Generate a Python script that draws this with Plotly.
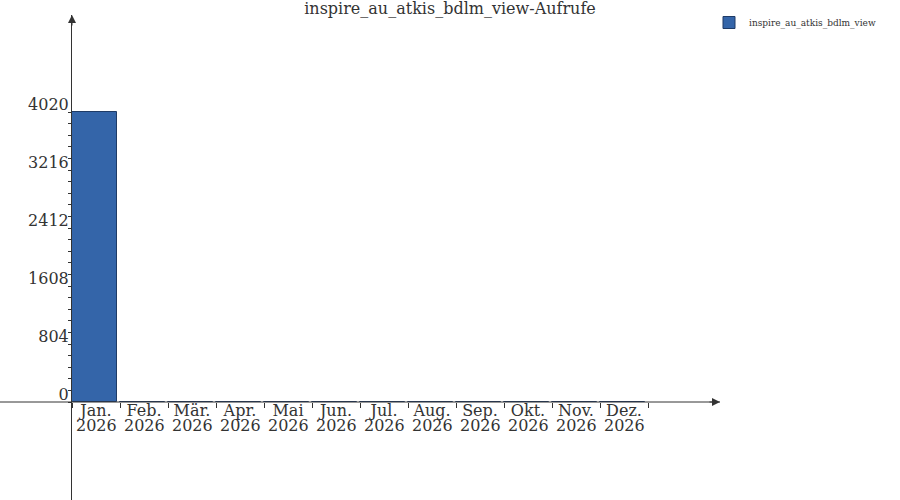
import plotly.graph_objects as go

# Data
months = ['Jan.', 'Feb.', 'Mär.', 'Apr.', 'Mai', 'Jun.', 'Jul.', 'Aug.',
          'Sep.', 'Okt.', 'Nov.', 'Dez.']
year = '2026'
calls = [4020, 0, 0, 0, 0, 0, 0, 0, 0, 0, 0, 0]
y_ticks = [0, 804, 1608, 2412, 3216, 4020]
series_name = 'inspire_au_atkis_bdlm_view'

txt = '#333333'
font = 'DejaVu Serif'

fig = go.Figure(go.Bar(
    x=months, y=calls, name=series_name,
    width=0.94, offset=-0.5,
    marker=dict(color='#3465a9', line=dict(color='#1f3b66', width=1)),
    showlegend=True,
))

# 0 sits at pixel 402, 4020 at 112 in a 15..500 plot area
px_per_unit = 290 / 4020
y_lo = -98 / px_per_unit
y_hi = (485 - 98) / px_per_unit
minor_vals = [i * 804 / 5 for i in range(26)]

fig.update_layout(
    width=900, height=500,
    margin=dict(l=72, r=180, t=15, b=0, autoexpand=False),
    plot_bgcolor='white', paper_bgcolor='white',
    font=dict(family=font, color=txt, size=16),
    title=dict(text=f'{series_name}-Aufrufe', x=0.5, xref='container',
               y=0.994, yref='container', yanchor='top',
               font=dict(size=16, color=txt, family=font)),
    bargap=0,
    legend=dict(x=(709 - 72) / 648, y=1.0 + 7 / 485, xanchor='left',
                yanchor='top', font=dict(size=9, family=font, color=txt),
                itemwidth=30, bgcolor='rgba(0,0,0,0)'),
    xaxis=dict(type='category', range=[-0.5, 13.0], anchor='free',
               position=98 / 485, showgrid=False, zeroline=False,
               showline=False, ticks='outside', tickson='boundaries',
               ticklen=5, tickcolor=txt, tickangle=0, ticklabelstandoff=-3,
               tickfont=dict(size=16, family=font, color=txt)),
    yaxis=dict(range=[y_lo, y_hi], tickvals=y_ticks,
               ticktext=[str(v) for v in y_ticks],
               showgrid=False, zeroline=False, showline=True,
               linecolor=txt, linewidth=1, ticks='outside', ticklen=3,
               tickcolor=txt, ticklabelstandoff=-4, ticklabelshift=-8,
               minor=dict(tickvals=minor_vals, ticks='outside',
                          ticklen=3, tickcolor=txt),
               tickfont=dict(size=16, family=font, color=txt)),
)

# second line of the date labels
for m in months:
    fig.add_annotation(x=m, y=0, xref='x', yref='y', yshift=-23,
                       text=year, showarrow=False, yanchor='middle',
                       font=dict(size=16, family=font, color=txt))

# x axis line running from the left page edge to the arrow
fig.add_shape(type='line', xref='paper', yref='y', x0=-72 / 648, x1=1.0,
              y0=0, y1=0, line=dict(color=txt, width=1))

# arrow heads
fig.add_annotation(x=1.0, y=0, xref='paper', yref='y', ax=-12, ay=0,
                   text='', showarrow=True, arrowhead=2, arrowsize=1.6,
                   arrowwidth=1, arrowcolor=txt)
fig.add_annotation(x=0, y=1.0, xref='paper', yref='paper', ax=0, ay=12,
                   text='', showarrow=True, arrowhead=2, arrowsize=1.6,
                   arrowwidth=1, arrowcolor=txt)

fig.write_html('out.html', config={'displayModeBar': False},
               post_script="document.body.style.margin='0';")
